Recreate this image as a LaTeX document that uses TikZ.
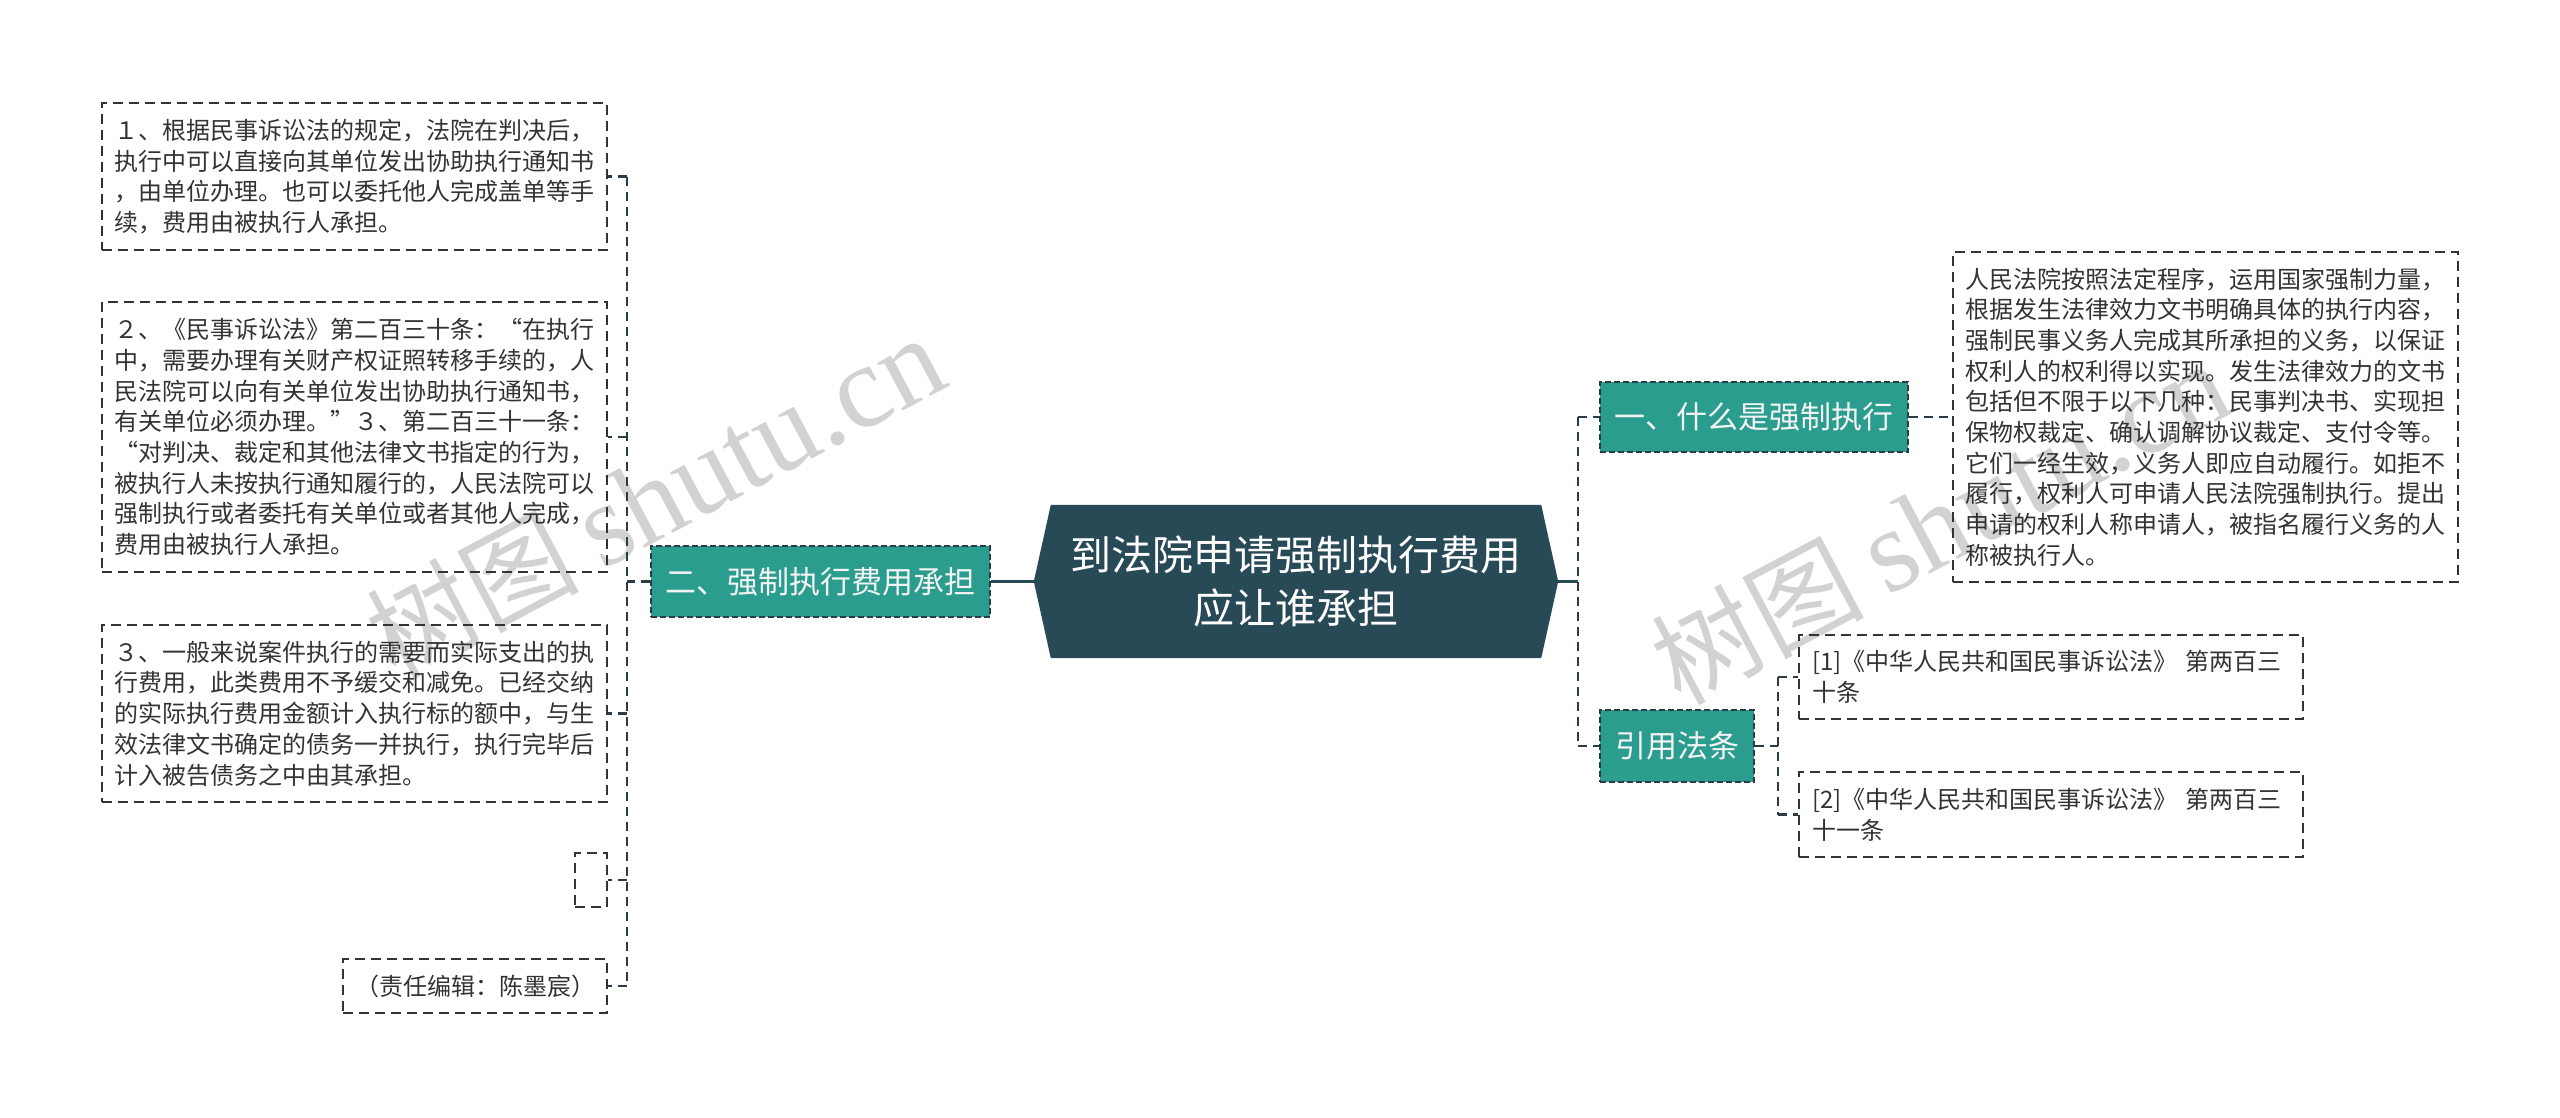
\documentclass[tikz,border=0pt]{standalone}
\usepackage{fontspec}
\newfontfamily\cjk{Noto Sans CJK SC}
\newfontfamily\wmserif{Liberation Serif}
\usetikzlibrary{calc}
\definecolor{rootc}{HTML}{284956}
\definecolor{tealc}{HTML}{2A9D8E}
\definecolor{linec}{HTML}{2B3C46}
\definecolor{leafc}{HTML}{333333}
\definecolor{wmc}{HTML}{D2D2D2}
\definecolor{brtext}{HTML}{F4F4F4}
\pgfdeclarelayer{background}
\pgfsetlayers{background,main}
\begin{document}
\begin{tikzpicture}[x=1pt,y=-1pt,
  leaf/.style={draw=leafc, line width=2pt, dash pattern=on 10pt off 6pt,
    text=leafc, font={\cjk\fontsize{24pt}{30.7pt}\selectfont},
    inner xsep=12.5pt, inner ysep=0pt, text width=480pt, align=left},
  branch/.style={fill=tealc, draw=linec, line width=1.8pt, dash pattern=on 6pt off 3pt,
    text=brtext, font={\cjk\fontsize{31pt}{38pt}\selectfont},
    inner sep=0pt, align=center},
  rootbox/.style={text=white, font={\cjk\fontsize{41pt}{53pt}\selectfont},
    inner sep=0pt, align=center, minimum width=524pt, minimum height=153pt},
  conn/.style={draw=linec, line width=2.5pt, dash pattern=on 9pt off 6pt},
  solidconn/.style={draw=rootc, line width=3pt},
  wm/.style={text=wmc, rotate=28, inner sep=0pt}
]
\useasboundingbox (0,0) rectangle (2560,1117);

% watermarks
\node[wm] (wm1) at (655,497) {{\cjk\fontsize{106pt}{106pt}\selectfont 树图}\hspace{22pt}{\wmserif\fontsize{118pt}{118pt}\selectfont shutu.cn}};
\node[wm] (wm2) at (1940,523) {{\cjk\fontsize{106pt}{106pt}\selectfont 树图}\hspace{22pt}{\wmserif\fontsize{118pt}{118pt}\selectfont shutu.cn}};

% root
\node[rootbox] (root) at (1296,581.5) {到法院申请强制执行费用\\应让谁承担};
\begin{pgfonlayer}{background}
\fill[rootc] ([xshift=17pt]root.north west) -- ([xshift=-17pt]root.north east) -- (root.east)
  -- ([xshift=-17pt]root.south east) -- ([xshift=17pt]root.south west) -- (root.west) -- cycle;
\end{pgfonlayer}

% branches
\node[branch, minimum width=339pt, minimum height=71pt] (B2) at (820.5,581.5) {二、强制执行费用承担};
\node[branch, minimum width=308pt, minimum height=70pt] (B1) at (1754,417) {一、什么是强制执行};
\node[branch, minimum width=154pt, minimum height=72pt] (B3) at (1677,746) {引用法条};

% left leaves
\node[leaf, minimum height=147pt] (L1) at (354.5,176.5) {１、根据民事诉讼法的规定，法院在判决后，\\执行中可以直接向其单位发出协助执行通知书\\，由单位办理。也可以委托他人完成盖单等手\\续，费用由被执行人承担。};
\node[leaf, minimum height=270pt] (L2) at (354.5,437) {２、《民事诉讼法》第二百三十条：“在执行\\中，需要办理有关财产权证照转移手续的，人\\民法院可以向有关单位发出协助执行通知书，\\有关单位必须办理。”３、第二百三十一条：\\“对判决、裁定和其他法律文书指定的行为，\\被执行人未按执行通知履行的，人民法院可以\\强制执行或者委托有关单位或者其他人完成，\\费用由被执行人承担。};
\node[leaf, minimum height=177pt] (L3) at (354.5,713.5) {３、一般来说案件执行的需要而实际支出的执\\行费用，此类费用不予缓交和减免。已经交纳\\的实际执行费用金额计入执行标的额中，与生\\效法律文书确定的债务一并执行，执行完毕后\\计入被告债务之中由其承担。};
\node[leaf, text width=0pt, inner xsep=0pt, minimum width=32pt, minimum height=54pt] (L4) at (591,880) {};
\node[leaf, text width=240pt, inner xsep=12pt, align=center, minimum height=54pt] (L5) at (475,986) {（责任编辑：陈墨宸）};

% right leaves
\node[leaf, minimum height=330pt] (R1) at (2205.5,417) {人民法院按照法定程序，运用国家强制力量，\\根据发生法律效力文书明确具体的执行内容，\\强制民事义务人完成其所承担的义务，以保证\\权利人的权利得以实现。发生法律效力的文书\\包括但不限于以下几种：民事判决书、实现担\\保物权裁定、确认调解协议裁定、支付令等。\\它们一经生效，义务人即应自动履行。如拒不\\履行，权利人可申请人民法院强制执行。提出\\申请的权利人称申请人，被指名履行义务的人\\称被执行人。};
\node[leaf, text width=478pt, inner xsep=13pt, minimum height=84pt] (F1) at (2051,677) {[1]《中华人民共和国民事诉讼法》 第两百三\\十条};
\node[leaf, text width=478pt, inner xsep=13pt, minimum height=85pt] (F2) at (2051,814.5) {[2]《中华人民共和国民事诉讼法》 第两百三\\十一条};

% connectors left
\coordinate (lj) at (627,581.5);
\draw[solidconn] (root.west) -- (B2.east);
\draw[conn] (B2.west) -- (lj);
\draw[conn] (lj |- L1.east) -- (lj |- L5.east);
\foreach \n in {L1,L2,L3,L4,L5} \draw[conn] (lj |- \n.east) -- (\n.east);

% connectors right
\coordinate (rj) at (1578,581.5);
\draw[solidconn] (root.east) -- (rj);
\draw[conn] (rj |- B1.west) -- (rj |- B3.west);
\draw[conn] (rj |- B1.west) -- (B1.west);
\draw[conn] (rj |- B3.west) -- (B3.west);
\draw[conn] (B1.east) -- (R1.west);
\coordinate (qj) at (1778,746);
\draw[conn] (B3.east) -- (qj);
\draw[conn] (qj |- F1.west) -- (qj |- F2.west);
\draw[conn] (qj |- F1.west) -- (F1.west);
\draw[conn] (qj |- F2.west) -- (F2.west);
\end{tikzpicture}
\end{document}
